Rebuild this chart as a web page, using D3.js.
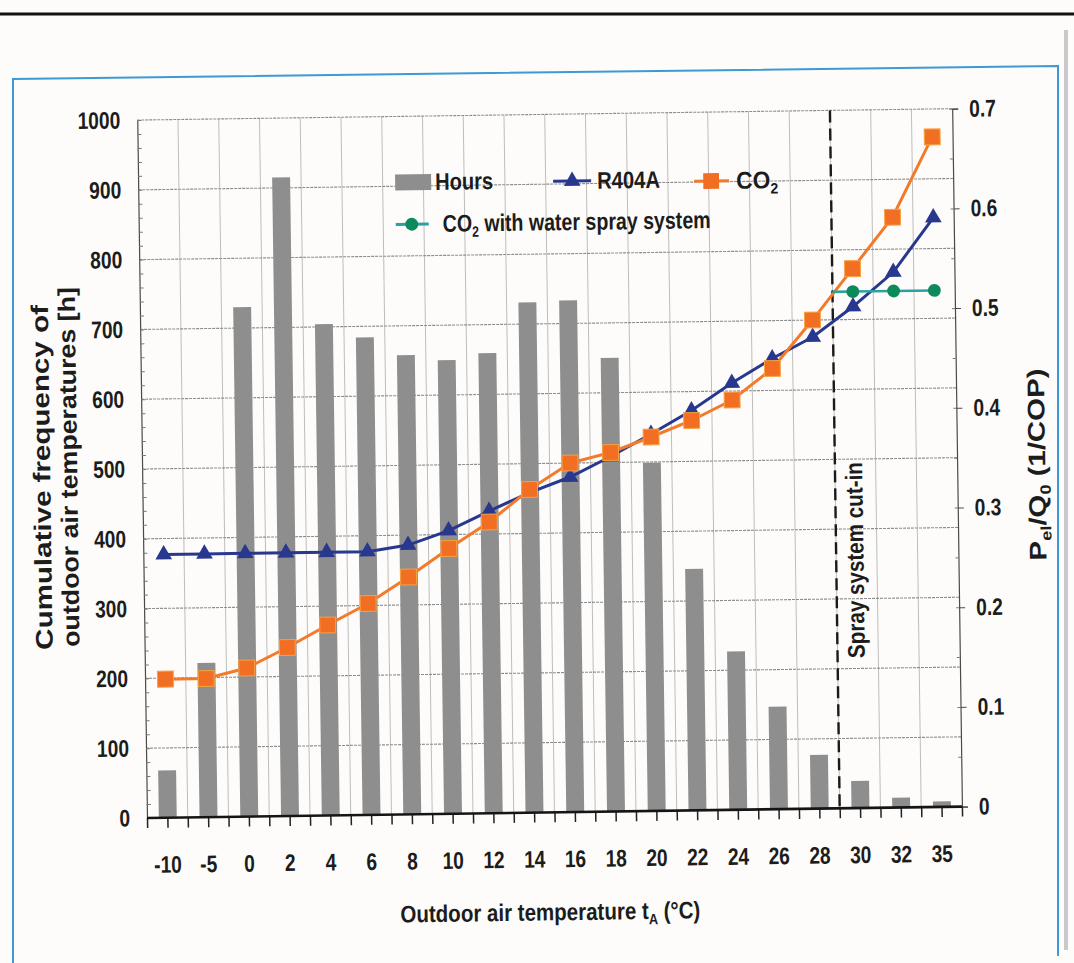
<!DOCTYPE html>
<html><head><meta charset="utf-8">
<script src="https://cdn.jsdelivr.net/npm/d3@7"></script>
<style>
body{margin:0;background:#fdfcfa}
text{font-family:"Liberation Sans",Arial,Helvetica,sans-serif;font-weight:bold;fill:#1c1c1c}
</style>
</head><body>
<svg id="chart" width="1074" height="963"></svg>
<script>
// ---------- data ----------
const categories = ["-10","-5","0","2","4","6","8","10","12","14","16","18","20","22","24","26","28","30","32","35"];
const hours = [68,221,730,915,704,684,658,650,659,731,733,650,499,346,227,147,77,39,14,8];
const r404a = [0.264,0.264,0.264,0.264,0.264,0.264,0.270,0.284,0.303,0.321,0.336,0.356,0.378,0.401,0.428,0.452,0.473,0.503,0.537,0.591];
const co2 = [0.139,0.139,0.149,0.169,0.191,0.212,0.238,0.266,0.292,0.324,0.350,0.360,0.375,0.391,0.411,0.442,0.490,0.541,0.592,0.672];
const sprayCategories = ["30","32","35"];
const co2Spray = [0.518,0.518,0.518];
const hourTicks = [0,100,200,300,400,500,600,700,800,900,1000];
const copTicks = [0,0.1,0.2,0.3,0.4,0.5,0.6,0.7];
const cutInCategory = "30";

// ---------- colours ----------
const C = {bar:"#8f8e8e", navy:"#27388e", orange:"#f37a2a", orangeMk:"#f26e22", green:"#0c8a5c", teal:"#2aa3a0",
           gridH:"#8d8d8d", gridV:"#bdbdbd", axis:"#4a4a4a", frame:"#3d9ad8"};

const svg = d3.select("#chart");
svg.append("rect").attr("width",1074).attr("height",963).attr("fill","#fdfcfa");
// scan rule at top and frame
svg.append("line").attr("x1",0).attr("x2",1074).attr("y1",14).attr("y2",14).attr("stroke","#111").attr("stroke-width",3);
svg.append("path").attr("d","M13,963 L13,79 L1058,66 L1058,956").attr("fill","none").attr("stroke",C.frame).attr("stroke-width",2);
svg.append("line").attr("x1",1066).attr("x2",1066).attr("y1",30).attr("y2",950).attr("stroke","#c9c9c9").attr("stroke-width",4);

const g = svg.append("g").attr("transform","rotate(-0.8,147,818)");
const L=147, R=962, T=120, B=818;
const x = d3.scaleBand().domain(categories).range([L,R]);
const bw = x.bandwidth();
const cx = c => x(c) + bw/2;
const yL = d3.scaleLinear().domain([0,1000]).range([B,T]);
const yR = d3.scaleLinear().domain([0,0.7]).range([B,T]);

function squeeze(sel,k){ sel.each(function(){ const l=this.getComputedTextLength(); this.setAttribute("textLength",l*k); this.setAttribute("lengthAdjust","spacingAndGlyphs"); }); }
function txt(parent,x0,y0,rot,size,parts,len,anchor){
  const t = parent.append("text").attr("font-size",size).attr("text-anchor",anchor||"middle");
  parts.forEach(p=>{
    const s=t.append("tspan").text(p.t);
    if(p.sub) s.attr("font-size",size*0.62).attr("dy",size*0.22);
    if(p.after) s.attr("dy",-size*0.22);
  });
  const nat = t.node().getComputedTextLength();
  const k = len ? len/nat : 1;
  t.attr("transform",`translate(${x0},${y0})`+(rot?` rotate(${rot})`:"")+` scale(${k.toFixed(4)},1)`);
  return t;
}

// ---------- grid ----------
g.append("g").selectAll("line").data(categories.slice(1)).join("line")
  .attr("x1",d=>x(d)).attr("x2",d=>x(d)).attr("y1",T).attr("y2",B)
  .attr("stroke",C.gridV).attr("stroke-width",1);
g.append("g").selectAll("line").data(hourTicks.slice(1)).join("line")
  .attr("x1",L).attr("x2",R).attr("y1",d=>yL(d)).attr("y2",d=>yL(d))
  .attr("stroke",C.gridH).attr("stroke-width",1.1).attr("stroke-dasharray","3,1");

// ---------- bars ----------
g.append("g").selectAll("rect").data(categories).join("rect")
  .attr("x",d=>x(d)+bw*0.29).attr("width",bw*0.44)
  .attr("y",(d,i)=>yL(hours[i])).attr("height",(d,i)=>B-yL(hours[i]))
  .attr("fill",C.bar);

// ---------- axes ----------
const leftAx = g.append("g").attr("transform",`translate(${L},0)`)
  .call(d3.axisLeft(yL).tickValues(hourTicks).tickSize(0).tickPadding(17).tickFormat(d3.format("d")));
leftAx.select(".domain").attr("stroke",C.axis).attr("stroke-width",1.2);
leftAx.selectAll("text").attr("font-size",24).attr("font-family",null).attr("fill","#1c1c1c");
squeeze(leftAx.selectAll("text"),0.8);
const leftMinor = g.append("g").attr("transform",`translate(${L},0)`)
  .call(d3.axisRight(yL).tickValues(d3.range(0,1001,20)).tickSize(4).tickFormat(""));
leftMinor.select(".domain").remove();
leftMinor.selectAll("line").attr("stroke","#777");

const rightAx = g.append("g").attr("transform",`translate(${R},0)`)
  .call(d3.axisRight(yR).tickValues(copTicks).tickSize(6).tickPadding(11).tickFormat(d=>d===0?"0":d3.format(".1f")(d)));
rightAx.select(".domain").attr("stroke",C.axis).attr("stroke-width",1.2);
rightAx.selectAll("line").attr("stroke",C.axis);
rightAx.selectAll("text").attr("font-size",24).attr("font-family",null).attr("fill","#1c1c1c");
squeeze(rightAx.selectAll("text"),0.8);
const rightMinor = g.append("g").attr("transform",`translate(${R},0)`)
  .call(d3.axisLeft(yR).tickValues(d3.range(0,0.701,0.05)).tickSize(3).tickFormat(""));
rightMinor.select(".domain").remove();
rightMinor.selectAll("line").attr("stroke","#777");

const bottomLabels = g.append("g").attr("transform",`translate(0,${B})`)
  .call(d3.axisBottom(x).tickSize(0).tickPadding(38));
bottomLabels.select(".domain").remove();
bottomLabels.selectAll("text").attr("font-size",24).attr("font-family",null).attr("fill","#1c1c1c");
squeeze(bottomLabels.selectAll("text"),0.8);
const halfSteps = d3.scaleLinear().domain([0,categories.length*2]).range([L,R]);
const bottomTicks = g.append("g").attr("transform",`translate(0,${B})`)
  .call(d3.axisBottom(halfSteps).tickValues(d3.range(0,categories.length*2+1)).tickSize(10).tickFormat(""));
bottomTicks.select(".domain").remove();
bottomTicks.selectAll("line").attr("stroke","#222").attr("stroke-width",1.5);
g.append("line").attr("x1",L).attr("x2",R).attr("y1",B).attr("y2",B).attr("stroke","#151515").attr("stroke-width",2.6);

// ---------- spray cut-in ----------
const xCut = x(cutInCategory);
g.append("line").attr("x1",xCut).attr("x2",xCut).attr("y1",T).attr("y2",B)
  .attr("stroke","#1a1a1a").attr("stroke-width",2.4).attr("stroke-dasharray","12,6");
txt(g,867,570,-90,24,[{t:"Spray system cut-in"}],196);

// ---------- lines ----------
const lineR = d3.line().x((d,i)=>cx(categories[i])).y(d=>yR(d));
g.append("path").datum(r404a).attr("d",lineR).attr("fill","none").attr("stroke",C.navy).attr("stroke-width",3);
g.append("path").datum(co2).attr("d",lineR).attr("fill","none").attr("stroke",C.orange).attr("stroke-width",3);
const sprayPts = [[xCut,co2Spray[0]]].concat(sprayCategories.map((c,i)=>[cx(c),co2Spray[i]]));
g.append("path").datum(sprayPts).attr("d",d3.line().x(d=>d[0]).y(d=>yR(d[1])))
  .attr("fill","none").attr("stroke",C.teal).attr("stroke-width",2.6);

const tri = d3.symbol().type(d3.symbolTriangle).size(120)();
const sq = d3.symbol().type(d3.symbolSquare).size(250)();
const circ = d3.symbol().type(d3.symbolCircle).size(130)();
g.append("g").selectAll("path").data(r404a).join("path").attr("d",tri)
  .attr("transform",(d,i)=>`translate(${cx(categories[i])},${yR(d)})`).attr("fill",C.navy);
g.append("g").selectAll("path").data(co2).join("path").attr("d",sq)
  .attr("transform",(d,i)=>`translate(${cx(categories[i])},${yR(d)})`).attr("fill",C.orangeMk).attr("stroke","#f7a142").attr("stroke-width",1);
g.append("g").selectAll("path").data(co2Spray).join("path").attr("d",circ)
  .attr("transform",(d,i)=>`translate(${cx(sprayCategories[i])},${yR(d)})`).attr("fill",C.green);

// ---------- legend ----------
const lg = g.append("g");
lg.append("rect").attr("x",404).attr("y",178).attr("width",36).attr("height",16).attr("fill",C.bar);
txt(lg,444,194,0,24,[{t:"Hours"}],58,"start");
lg.append("line").attr("x1",562).attr("x2",600).attr("y1",187).attr("y2",187).attr("stroke",C.navy).attr("stroke-width",3);
lg.append("path").attr("d",tri).attr("transform","translate(581,187)").attr("fill",C.navy);
txt(lg,606,195,0,24,[{t:"R404A"}],63,"start");
lg.append("line").attr("x1",703).attr("x2",738).attr("y1",189).attr("y2",189).attr("stroke",C.orange).attr("stroke-width",3);
lg.append("path").attr("d",sq).attr("transform","translate(720,189)").attr("fill",C.orangeMk);
txt(lg,745,197,0,24,[{t:"CO"},{t:"2",sub:true}],42,"start");
lg.append("line").attr("x1",404).attr("x2",437).attr("y1",228).attr("y2",228).attr("stroke",C.teal).attr("stroke-width",3);
lg.append("path").attr("d",circ).attr("transform","translate(420,228)").attr("fill",C.green);
txt(lg,451,236,0,24,[{t:"CO"},{t:"2",sub:true},{t:" with water spray system",after:true}],268,"start");

// ---------- axis titles ----------
txt(g,55,476,-90,24,[{t:"Cumulative frequency of"}],345);
txt(g,82,466,-90,24,[{t:"outdoor air temperatures [h]"}],360);
txt(g,1050,477,-90,24,[{t:"P"},{t:"el",sub:true},{t:"/Q",after:true},{t:"0",sub:true},{t:" (1/COP)",after:true}],192);
txt(g,549,926,0,24,[{t:"Outdoor air temperature t"},{t:"A",sub:true},{t:" (°C)",after:true}],300);
</script>
</body></html>
